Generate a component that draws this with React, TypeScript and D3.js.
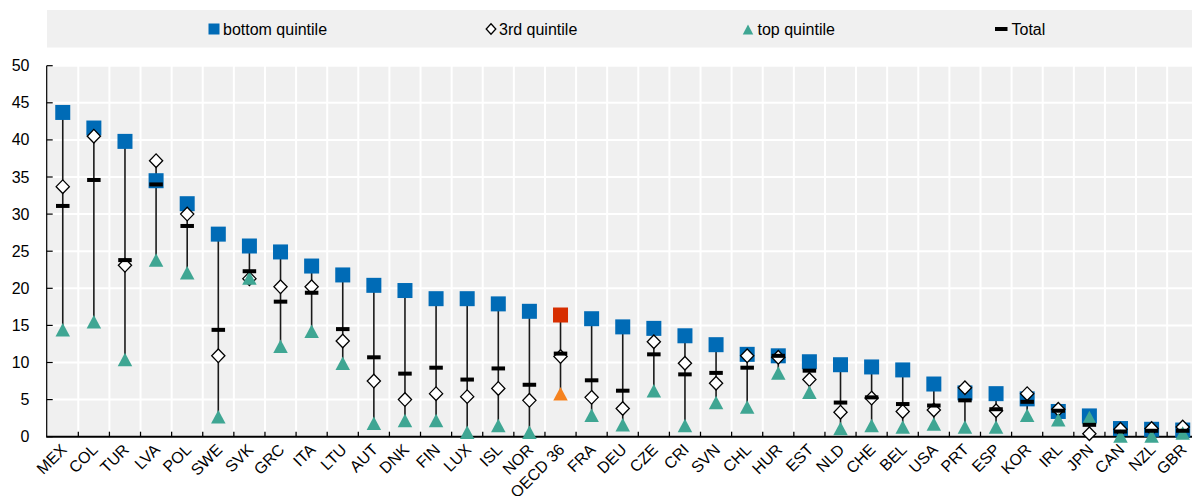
import React from "react";
import * as d3 from "d3";

const categories = ["MEX","COL","TUR","LVA","POL","SWE","SVK","GRC","ITA","LTU","AUT","DNK","FIN","LUX","ISL","NOR","OECD 36","FRA","DEU","CZE","CRI","SVN","CHL","HUR","EST","NLD","CHE","BEL","USA","PRT","ESP","KOR","IRL","JPN","CAN","NZL","GBR"];
const bottomQ = [43.7,41.6,39.8,34.5,31.4,27.3,25.7,24.9,23.0,21.8,20.4,19.7,18.6,18.6,17.9,16.9,16.4,15.9,14.8,14.6,13.6,12.4,11.1,10.9,10.1,9.7,9.4,9.0,7.1,5.9,5.8,5.1,3.4,2.8,1.1,1.0,0.9];
const thirdQ = [33.7,40.5,23.1,37.2,30.0,10.9,21.3,20.2,20.2,12.9,7.5,5.0,5.8,5.4,6.5,4.9,10.8,5.3,3.8,12.8,9.9,7.2,10.9,10.7,7.7,3.3,5.2,3.4,3.6,6.6,3.5,5.8,3.7,0.4,1.0,1.1,1.3];
const topQ = [14.4,15.5,10.4,23.8,22.1,2.7,21.4,12.2,14.2,9.9,1.8,2.2,2.2,0.6,1.5,0.6,5.8,2.9,1.6,6.2,1.5,4.6,4.0,8.6,6.0,1.1,1.5,1.3,1.7,1.3,1.3,2.9,2.3,2.6,0.1,0.1,0.5];
const totalV = [31.1,34.6,23.8,34.0,28.4,14.4,22.3,18.2,19.4,14.5,10.7,8.5,9.3,7.7,9.2,7.0,11.2,7.6,6.2,11.1,8.4,8.6,9.3,10.9,8.9,4.6,5.3,4.4,4.2,4.9,3.7,4.7,3.5,1.6,0.7,0.8,0.8];
const yTicks = [0,5,10,15,20,25,30,35,40,45,50];
const legendLabels = ["bottom quintile","3rd quintile","top quintile","Total"];
const highlight = "OECD 36";

const BLUE = "#006BB6";
const TEAL = "#3FA693";
const RED = "#D72E00";
const ORANGE = "#F5821F";
const BG = "#F0F0F0";
const FONT = "'Liberation Sans', Arial, sans-serif";

export default function App() {
  const W = 1192, H = 496;
  const left = 47.2, bw = 31.11;
  const x = d3.scaleBand<string>().domain(categories).range([left, left + bw * categories.length]).padding(0);
  const y = d3.scaleLinear().domain([0, 50]).range([436.7, 65.7]);
  const y0 = y(0), y50 = y(50);
  const right = left + bw * categories.length;

  const sq = 15, dia = 6.6, triW = 14.5, triH = 13.5, dashW = 13.5, dashH = 4;
  const triPath = (cx: number, cy: number, w: number, h: number) =>
    `M${cx - w / 2},${cy + h / 2}L${cx + w / 2},${cy + h / 2}L${cx},${cy - h / 2}Z`;
  const diaPath = (cx: number, cy: number, r: number, rv: number) =>
    `M${cx},${cy - rv}L${cx + r},${cy}L${cx},${cy + rv}L${cx - r},${cy}Z`;

  const legendY = 29;
  return (
    <svg width={W} height={H} style={{ position: "absolute", left: 0, top: 0, fontFamily: FONT }}>
      <rect x={0} y={0} width={W} height={H} fill="#fff" />
      {/* legend */}
      <rect x={47} y={10} width={W - 47} height={37.5} fill={BG} />
      <rect x={208.5} y={legendY - 5.5} width={11} height={11} fill={BLUE} />
      <text x={223} y={legendY + 5.5} fontSize={16} fill="#000">{legendLabels[0]}</text>
      <path d={diaPath(491, legendY, 4.8, 5.2)} fill="#fff" stroke="#000" strokeWidth={1.3} />
      <text x={499} y={legendY + 5.5} fontSize={16} fill="#000">{legendLabels[1]}</text>
      <path d={triPath(748, legendY + 0.5, 10.5, 10)} fill={TEAL} />
      <text x={757.5} y={legendY + 5.5} fontSize={16} fill="#000">{legendLabels[2]}</text>
      <rect x={995} y={legendY - 2} width={12.5} height={4} fill="#000" />
      <text x={1011.5} y={legendY + 5.5} fontSize={16} fill="#000">{legendLabels[3]}</text>

      {/* plot bg */}
      <rect x={left} y={y50} width={right - left} height={y0 - y50} fill={BG} />
      {yTicks.map((t) => (
        <line key={"h" + t} x1={left} x2={right} y1={y(t)} y2={y(t)} stroke="#fff" strokeWidth={2} />
      ))}
      {categories.map((c, i) => i > 0 ? (
        <line key={"v" + c} x1={x(c)!} x2={x(c)!} y1={y50} y2={y0} stroke="#fff" strokeWidth={2} />
      ) : null)}
      {/* y axis */}
      <line x1={left - 0.5} x2={left - 0.5} y1={y50} y2={y0} stroke="#000" strokeWidth={1.2} />
      {yTicks.map((t) => (
        <g key={"yt" + t}>
          <line x1={left - 0.5} x2={left + 5.5} y1={y(t)} y2={y(t)} stroke="#000" strokeWidth={1.2} />
          <text x={29.5} y={y(t) + 5.5} fontSize={16} textAnchor="end" fill="#000">{t}</text>
        </g>
      ))}
      {/* x axis */}
      {categories.map((c, i) => i > 0 ? (
        <line key={"xt" + c} x1={x(c)!} x2={x(c)!} y1={y0 - 5} y2={y0} stroke="#000" strokeWidth={1.3} />
      ) : null)}
      <line x1={left - 1} x2={right} y1={y0} y2={y0} stroke="#000" strokeWidth={2} />
      {categories.map((c) => {
        const cx = x(c)! + bw / 2;
        return (
          <text key={"xl" + c} transform={`translate(${cx + 5},${y0 + 14}) rotate(-45)`} fontSize={16} textAnchor="end" fill="#000">{c}</text>
        );
      })}

      {/* marks */}
      {categories.map((c, i) => {
        const cx = x(c)! + bw / 2;
        const vals = [bottomQ[i], thirdQ[i], topQ[i]];
        const hi = c === highlight;
        return (
          <g key={"m" + c}>
            <line x1={cx} x2={cx} y1={y(d3.max(vals)!)} y2={y(d3.min(vals)!)} stroke="#1a1a1a" strokeWidth={1.6} />
            <rect x={cx - sq / 2} y={y(bottomQ[i]) - sq / 2} width={sq} height={sq} fill={hi ? RED : BLUE} />
            <path d={diaPath(cx, y(thirdQ[i]), dia, 6.8)} fill="#fff" stroke="#000" strokeWidth={1.3} />
            <path d={triPath(cx, y(topQ[i]), triW, triH)} fill={hi ? ORANGE : TEAL} />
            <rect x={cx - dashW / 2} y={y(totalV[i]) - dashH / 2} width={dashW} height={dashH} fill="#000" />
          </g>
        );
      })}
    </svg>
  );
}
